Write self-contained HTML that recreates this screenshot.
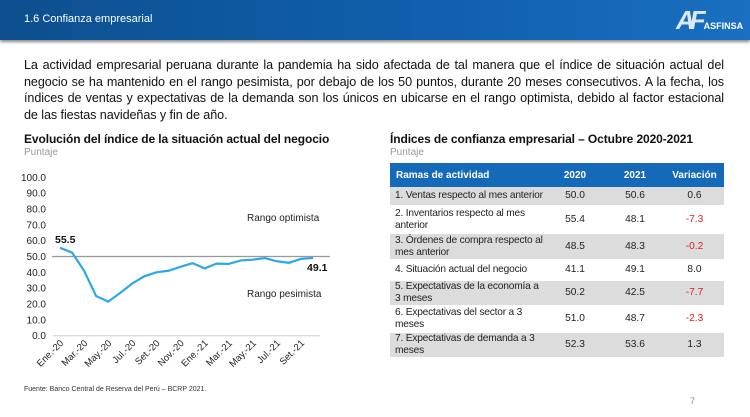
<!DOCTYPE html>
<html><head><meta charset="utf-8">
<style>
body{margin:0;width:750px;height:417px;background:#fff;font-family:"Liberation Sans",Arial,sans-serif;position:relative;overflow:hidden}
.hdr{position:absolute;left:0;top:0;width:750px;height:40px;background:linear-gradient(90deg,#0d4f8f 0%,#1060ae 60%,#1a6fc0 100%);box-shadow:0 2px 3px #888}
.hdr .t{position:absolute;left:24px;top:13px;color:#fff;font-size:11px}
.logo{position:absolute;left:676px;top:5px;color:#fff;white-space:nowrap}
p.txt{position:absolute;left:24px;top:57px;width:700px;margin:0;font-size:12.6px;letter-spacing:-0.08px;line-height:16.7px;text-align:justify;color:#111}
.ttl{position:absolute;font-size:12px;font-weight:bold;color:#111;letter-spacing:-0.1px}
.sub{position:absolute;font-size:10px;color:#999}
table{position:absolute;left:390px;top:163px;width:334px;border-collapse:collapse;font-size:10.2px;color:#222;table-layout:fixed}
th{background:#1469b8;color:#fff;height:22px;text-align:center;font-size:10px}
th:first-child{text-align:left;padding-left:6px}
td{text-align:center;border-bottom:2px solid #fff;line-height:12px;padding:0}
td:first-child{text-align:left;padding-left:5px;letter-spacing:-0.2px}
tr.g td{background:#dcdcdc}
.red{color:#e02020}
.foot{position:absolute;left:24px;top:386px;font-size:7px;color:#333}
.pg{position:absolute;left:690px;top:396px;font-size:9px;color:#888}
</style></head><body>
<div class="hdr">
<div class="t">1.6 Confianza empresarial</div>
<div class="logo"><span style="font-size:26px;font-weight:bold;font-style:italic;letter-spacing:-5px;color:#dfe9f5">AF</span><span style="font-size:9px;font-weight:bold;margin-left:3px">ASFINSA</span></div>
</div>
<p class="txt">La actividad empresarial peruana durante la pandemia ha sido afectada de tal manera que el índice de situación actual del negocio se ha mantenido en el rango pesimista, por debajo de los 50 puntos, durante 20 meses consecutivos. A la fecha, los índices de ventas y expectativas de la demanda son los únicos en ubicarse en el rango optimista, debido al factor estacional de las fiestas navideñas y fin de año.</p>
<div class="ttl" style="left:24px;top:132px">Evolución del índice de la situación actual del negocio</div>
<div class="sub" style="left:24px;top:147px">Puntaje</div>
<div class="ttl" style="left:390px;top:132px">Índices de confianza empresarial – Octubre 2020-2021</div>
<div class="sub" style="left:390px;top:147px">Puntaje</div>
<svg id="chart" width="750" height="417" style="position:absolute;left:0;top:0"></svg>
<table>
<colgroup><col style="width:155px"><col style="width:60px"><col style="width:60px"><col style="width:59px"></colgroup>
<tr><th>Ramas de actividad</th><th>2020</th><th>2021</th><th>Variación</th></tr>
<tr class="g" style="height:19px"><td style="white-space:nowrap">1. Ventas respecto al mes anterior</td><td>50.0</td><td>50.6</td><td>0.6</td></tr>
<tr style="height:27px"><td>2. Inventarios respecto al mes anterior</td><td>55.4</td><td>48.1</td><td class="red">-7.3</td></tr>
<tr class="g" style="height:27px"><td>3. Órdenes de compra respecto al mes anterior</td><td>48.5</td><td>48.3</td><td class="red">-0.2</td></tr>
<tr style="height:20px"><td style="white-space:nowrap">4. Situación actual del negocio</td><td>41.1</td><td>49.1</td><td>8.0</td></tr>
<tr class="g" style="height:26px"><td>5. Expectativas de la economía a 3 meses</td><td>50.2</td><td>42.5</td><td class="red">-7.7</td></tr>
<tr style="height:26px"><td>6. Expectativas del sector a 3 meses</td><td>51.0</td><td>48.7</td><td class="red">-2.3</td></tr>
<tr class="g" style="height:24px"><td>7. Expectativas de demanda a 3 meses</td><td>52.3</td><td>53.6</td><td>1.3</td></tr>
</table>
<div class="foot">Fuente: Banco Central de Reserva del Perú – BCRP 2021.</div>
<div class="pg">7</div>
<script>
const months=["Ene.-20","Feb.-20","Mar.-20","Abr.-20","May.-20","Jun.-20","Jul.-20","Ago.-20","Set.-20","Oct.-20","Nov.-20","Dic.-20","Ene.-21","Feb.-21","Mar.-21","Abr.-21","May.-21","Jun.-21","Jul.-21","Ago.-21","Set.-21","Oct.-21"];
const values=[55.5,52.5,41,25,21.5,27,33,37.5,40,41,43.5,45.8,42.5,45.5,45.3,47.5,48,49,47,46,48.5,49.1];
const yTicks=[0,10,20,30,40,50,60,70,80,90,100];
const threshold=50;
const svg=document.getElementById('chart');const NS='http://www.w3.org/2000/svg';
const x=i=>60+i*12.05, y=v=>335.7-v*1.584;
function mk(t,a,txt){const e=document.createElementNS(NS,t);for(const k in a)e.setAttribute(k,a[k]);if(txt!=null)e.textContent=txt;svg.appendChild(e);return e;}
yTicks.forEach(v=>{const e=mk('text',{x:46,y:y(v)+3.5,'text-anchor':'end','font-size':'10','fill':'#222'},v.toFixed(1));

});
let ax=mk('line',{x1:53,x2:320,y1:y(0),y2:y(0),stroke:'#ccc','stroke-width':1});


let th=mk('line',{x1:52,x2:330,y1:y(threshold),y2:y(threshold),stroke:'#999','stroke-width':1.2});


months.forEach((m,i)=>{if(i%2)return;const e=mk('text',{x:x(i)+4,y:y(0)+8,'text-anchor':'end','font-size':'9.5','fill':'#222',transform:`rotate(-45 ${x(i)+4} ${y(0)+8})`},m);

});
const pl=mk('polyline',{points:values.map((v,i)=>x(i)+','+y(v)).join(' '),fill:'none',stroke:'#2aa9e8','stroke-width':2.2});


let l1=mk('text',{x:x(0)-5,y:y(values[0])-5,'font-size':'10.5','font-weight':'bold','fill':'#111'},values[0].toFixed(1));


const n=values.length-1;
let l2=mk('text',{x:x(n)-6,y:y(values[n])+13,'font-size':'10.5','font-weight':'bold','fill':'#111'},values[n].toFixed(1));


let r1=mk('text',{x:247,y:221,'font-size':'10','fill':'#222'},'Rango optimista');


let r2=mk('text',{x:247,y:297,'font-size':'10','fill':'#222'},'Rango pesimista');


</script>
</body></html>
